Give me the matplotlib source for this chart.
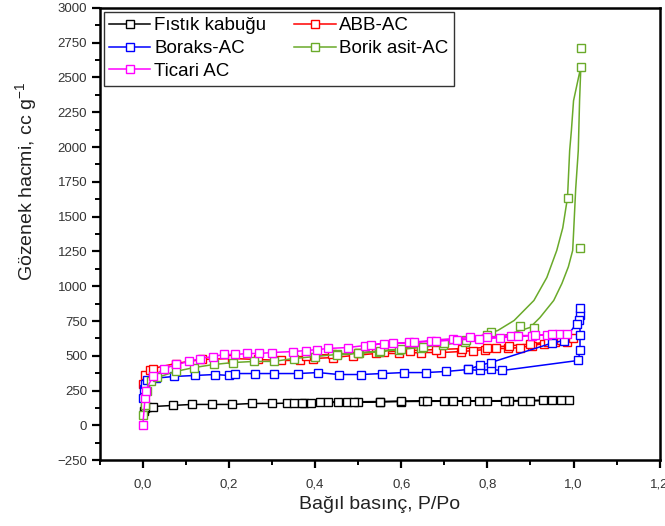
import matplotlib
matplotlib.use("Agg")
import matplotlib.pyplot as plt
from matplotlib.ticker import MultipleLocator, FuncFormatter

plt.rcParams['font.family'] = ['Liberation Sans', 'DejaVu Sans']

# Fıstık kabuğu (adsorption then desorption)
fistik_p = [0.002, 0.005, 0.01, 0.023, 0.071, 0.114, 0.16, 0.208, 0.254, 0.30, 0.334, 0.35, 0.375,
            0.391, 0.412, 0.453, 0.474, 0.50, 0.55, 0.60, 0.65, 0.70, 0.75, 0.80, 0.85, 0.90, 0.95, 0.99,
            0.97, 0.93, 0.88, 0.84, 0.78, 0.72, 0.66, 0.60, 0.55, 0.49, 0.43, 0.37]
fistik_v = [105, 125, 132, 136, 144, 151, 151, 151, 158, 158, 160, 162, 163,
            164, 165, 166, 167, 168, 170, 172, 173, 174, 175, 176, 177, 178, 180, 182,
            181, 180, 179, 178, 177, 176, 175, 174, 172, 170, 167, 164]

abb_p = [0.0, 0.005, 0.016, 0.023, 0.076, 0.137, 0.206, 0.268, 0.32, 0.366, 0.396, 0.442, 0.487,
         0.542, 0.595, 0.645, 0.693, 0.739, 0.767, 0.794, 0.819, 0.847, 0.876, 0.904, 0.931, 0.957, 0.984,
         0.998, 0.97, 0.94, 0.90, 0.85, 0.80, 0.74, 0.68, 0.62, 0.56, 0.50, 0.44, 0.38]
abb_v = [301, 359, 395, 409, 445, 474, 481, 474, 467, 467, 481, 488, 502,
         517, 517, 524, 524, 531, 538, 545, 553, 553, 560, 574, 588, 596, 603,
         625, 612, 600, 585, 572, 560, 552, 545, 538, 530, 522, 512, 500]

boraks_p = [0.0, 0.002, 0.005, 0.01, 0.03, 0.073, 0.121, 0.167, 0.2, 0.215, 0.26, 0.305, 0.36, 0.407,
            0.455, 0.506, 0.556, 0.606, 0.657, 0.705, 0.755, 0.782, 0.808, 0.835, 1.011, 1.015, 1.015,
            1.015, 1.015, 1.013, 1.007, 0.977, 0.95, 0.808, 0.782, 0.755]
boraks_v = [200, 260, 300, 325, 340, 352, 359, 366, 359, 373, 373, 373, 373, 380,
            366, 366, 373, 380, 380, 388, 402, 395, 402, 395, 467, 539, 653,
            790, 847, 760, 732, 610, 592, 452, 431, 402]

# Borik asit-AC: markers
borik_p = [0.0, 0.005, 0.01, 0.02, 0.034, 0.076, 0.119, 0.165, 0.21, 0.258, 0.304, 0.35, 0.40, 0.45,
           0.503, 0.549, 0.595, 0.645, 0.698, 0.748, 0.808, 0.876, 0.908, 1.014, 1.017, 1.017,
           0.986, 0.80, 0.75, 0.70, 0.65, 0.60, 0.55, 0.50, 0.45]
borik_v = [72, 150, 250, 320, 345, 388, 416, 438, 452, 460, 460, 481, 495, 510,
           520, 530, 545, 560, 580, 600, 668, 711, 697, 1278, 2578, 2710,
           1637, 650, 615, 590, 565, 550, 535, 520, 505]
# Borik asit-AC: smooth curve (adsorption up, desorption down)
borik_line_p = [0.0, 0.005, 0.01, 0.02, 0.034, 0.076, 0.119, 0.165, 0.21, 0.258, 0.304, 0.35, 0.40,
                0.45, 0.503, 0.549, 0.595, 0.645, 0.698, 0.748, 0.80, 0.85, 0.899, 0.922, 0.954, 0.973,
                0.988, 0.998, 1.0, 1.005, 1.011, 1.014, 1.017,
                1.0, 0.995, 0.991, 0.986, 0.975, 0.961, 0.938, 0.908, 0.862, 0.824, 0.78, 0.70, 0.60,
                0.50, 0.45]
borik_line_v = [72, 150, 250, 320, 345, 388, 416, 438, 452, 460, 460, 481, 495,
                510, 520, 530, 545, 560, 580, 600, 625, 655, 704, 775, 898, 1020,
                1140, 1257, 1378, 1700, 1975, 2333, 2578,
                2333, 2118, 1975, 1637, 1420, 1257, 1063, 898, 754, 682, 640, 590, 550,
                520, 505]

ticari_p = [0.0, 0.005, 0.007, 0.023, 0.05, 0.078, 0.108, 0.133, 0.162, 0.188, 0.215, 0.243, 0.27,
            0.30, 0.348, 0.378, 0.405, 0.43, 0.476, 0.515, 0.561, 0.618, 0.67, 0.721, 0.76, 0.80, 0.854,
            0.904, 0.938, 0.966, 0.984, 0.95, 0.91, 0.87, 0.83, 0.78, 0.73, 0.68, 0.63, 0.58, 0.53]
ticari_v = [0, 194, 251, 352, 409, 438, 460, 481, 495, 510, 510, 517, 517,
            524, 531, 538, 545, 553, 560, 574, 588, 596, 610, 624, 632, 632, 646,
            646, 653, 660, 660, 655, 648, 640, 630, 622, 615, 605, 598, 590, 580]

fig = plt.figure(figsize=(6.65, 5.26), dpi=100)
ax = fig.add_axes([0.150, 0.125, 0.842, 0.860])

mk = dict(marker='s', markersize=5.5, markerfacecolor='white', markeredgewidth=1.0, linewidth=1.1)
green = '#6aaa2a'

h1, = ax.plot(fistik_p, fistik_v, color='black', label='Fıstık kabuğu', **mk)
h2, = ax.plot(abb_p, abb_v, color='#ff0000', label='ABB-AC', **mk)
h3, = ax.plot(boraks_p, boraks_v, color='#0000ff', label='Boraks-AC', **mk)
ax.plot(borik_line_p, borik_line_v, color=green, linewidth=1.1)
ax.plot(borik_p, borik_v, color=green, linestyle='none', marker='s', markersize=5.5,
        markerfacecolor='white', markeredgewidth=1.0)
h4, = ax.plot([], [], color=green, label='Borik asit-AC', **mk)
h5, = ax.plot(ticari_p, ticari_v, color='#ff00ff', label='Ticari AC', **mk)

ax.set_xlim(-0.1, 1.2)
ax.set_ylim(-250, 3000)
ax.xaxis.set_major_locator(MultipleLocator(0.2))
ax.xaxis.set_minor_locator(MultipleLocator(0.1))
ax.yaxis.set_major_locator(MultipleLocator(250))
ax.yaxis.set_minor_locator(MultipleLocator(125))
ax.xaxis.set_major_formatter(FuncFormatter(lambda v, pos: f"{v:.1f}".replace('.', ',')))
ax.tick_params(which='major', direction='out', length=6, width=1.6, labelsize=9.5,
               colors='black', labelcolor='#333333')
ax.tick_params(axis='y', which='major', pad=3)
ax.tick_params(axis='x', which='major', pad=7)
ax.tick_params(which='minor', direction='out', length=3.5, width=1.4)
for s in ax.spines.values():
    s.set_linewidth(1.8)

ax.set_xlabel('Bağıl basınç, P/Po', fontsize=14, color='#222222', labelpad=4)
ax.set_ylabel('Gözenek hacmi, cc g$^{\\mathregular{-1}}$', fontsize=14, color='#222222')
ax.yaxis.set_label_coords(-0.107, 0.617)

leg = ax.legend(handles=[h1, h3, h5, h2, h4], loc='upper left', ncol=2, fontsize=13.5,
                frameon=True, fancybox=False, borderaxespad=0.2, handlelength=2.2,
                handletextpad=0.2, columnspacing=1.5, labelspacing=0.3, borderpad=0.3)
leg.get_frame().set_edgecolor('black')
leg.get_frame().set_linewidth(1.0)

fig.savefig('out.png', dpi=100)
